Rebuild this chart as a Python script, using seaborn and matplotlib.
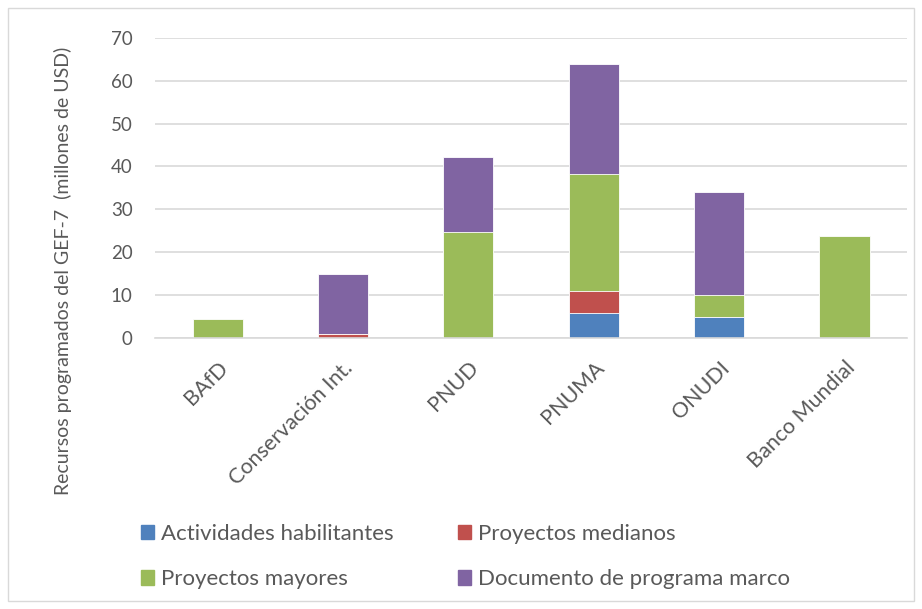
import matplotlib
matplotlib.use('Agg')
import matplotlib.pyplot as plt
import matplotlib.patches as mpatches
import pandas as pd
import seaborn as sns

# Data (millones de USD)
agencias = ['BAfD', 'Conservación Int.', 'PNUD', 'PNUMA', 'ONUDI', 'Banco Mundial']
actividades = [0, 0, 0, 5.8, 4.8, 0]
medianos = [0, 0.9, 0, 5.2, 0, 0]
mayores = [4.5, 0, 24.7, 27.2, 5.2, 23.8]
documento = [0, 14.1, 17.5, 25.7, 24.0, 0]

series = ['Actividades habilitantes', 'Proyectos medianos', 'Proyectos mayores',
          'Documento de programa marco']
colores = ['#4F81BD', '#C0504D', '#9BBB59', '#8064A2']

df = pd.DataFrame({'agencia': agencias,
                   series[0]: actividades,
                   series[1]: medianos,
                   series[2]: mayores,
                   series[3]: documento})

# cumulative totals so each layer can be drawn over the one above it
cum = df[series].cumsum(axis=1)

sns.set_style('white')
plt.rcParams['font.family'] = ['Lato', 'DejaVu Sans']
gris = '#595959'

fig = plt.figure(figsize=(9.22, 6.09), dpi=100)
ax = fig.add_axes([0.168, 0.445, 0.816, 0.493])

for s, c in reversed(list(zip(series, colores))):
    sns.barplot(x=df['agencia'], y=cum[s], color=c, width=0.4, ax=ax,
                edgecolor='white', linewidth=0.6, saturation=1)

ax.set_ylim(0, 70)
ax.set_yticks(range(0, 71, 10))
ax.set_xlim(-0.5, 5.5)
ax.yaxis.grid(True, color='#d9d9d9', linewidth=1.2)
ax.set_axisbelow(True)
for sp in ['top', 'right', 'left']:
    ax.spines[sp].set_visible(False)
ax.spines['bottom'].set_color('#d9d9d9')
ax.spines['bottom'].set_linewidth(1.2)
ax.tick_params(axis='y', length=0, pad=16, labelsize=13.5, labelcolor=gris)
ax.tick_params(axis='x', length=0, pad=14, labelsize=15.5, labelcolor=gris)
plt.setp(ax.get_xticklabels(), rotation=45, ha='right', rotation_mode='anchor')
ax.set_xlabel('')
ax.set_ylabel('')

fig.text(0.068, 1 - 271 / 609, 'Recursos programados del GEF-7  (millones de USD)',
         rotation=90, va='center', ha='center', fontsize=14, color=gris)

handles = [mpatches.Patch(color=c, label=s) for s, c in zip(series, colores)]
order = [0, 2, 1, 3]
leg = fig.legend([handles[i] for i in order], [series[i] for i in order],
                 ncol=2, loc='upper left', bbox_to_anchor=(0.153, 0.140),
                 frameon=False, fontsize=16, handlelength=0.6, handleheight=0.6,
                 handletextpad=0.3, labelspacing=1.15, columnspacing=2.9,
                 borderaxespad=0, borderpad=0)
for t in leg.get_texts():
    t.set_color(gris)

fig.patches.append(mpatches.Rectangle((0.009, 0.013), 0.982, 0.974,
                                      transform=fig.transFigure, fill=False,
                                      edgecolor='#d9d9d9', linewidth=1))

fig.savefig('out.png', dpi=100)
